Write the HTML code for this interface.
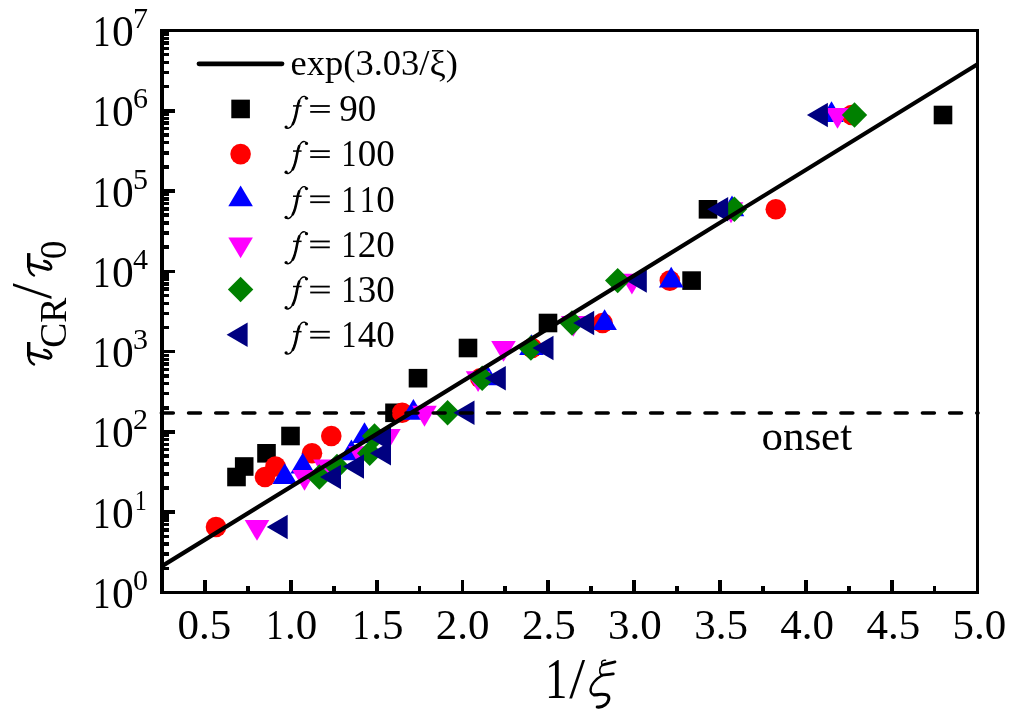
<!DOCTYPE html>
<html><head><meta charset="utf-8"><style>
html,body{margin:0;padding:0;background:#fff;width:1024px;height:722px;overflow:hidden}
svg{display:block;will-change:transform;font-family:"Liberation Serif",serif}
</style></head><body>
<svg width="1024" height="722" viewBox="0 0 1024 722" font-family="Liberation Serif, serif">
<defs><g id="fg"><path d="M306.6 98.6C306.4 96.4 303.6 95.6 301.6 97.4C299.3 99.5 298.2 103 297.3 108C296.3 114 295 121 291.8 125.6C289.8 128.4 287.2 129.2 285.8 127.4" fill="none" stroke="#000" stroke-width="1.4" stroke-linecap="round"/><path d="M299.2 101C298.2 103.4 297.8 105.5 297.3 108C296.3 114 295.2 120 292.8 124.2" fill="none" stroke="#000" stroke-width="2.6" stroke-linecap="round"/><circle cx="306.5" cy="98.3" r="1.6"/><circle cx="286.1" cy="127.1" r="1.6"/><rect x="293" y="105.2" width="8.6" height="1.5"/></g>
<g id="tau" fill="none" stroke="#000" stroke-linecap="round"><path d="M23 -22.2L8.5 -22.2" stroke-width="3.4" stroke-linecap="butt"/><path d="M9 -22.2C5 -22.2 2.2 -20.2 0.6 -16.9" stroke-width="2.4"/><path d="M11.6 -20.8L7 -3.2" stroke-width="3.2"/><path d="M7 -3.2C6.2 0.2 8.6 1 11 -0.4C13.4 -1.8 14.6 -4.2 15 -6.6" stroke-width="2.6"/></g>
</defs>
<rect width="1024" height="722" fill="#fff"/>
<g fill="#000" shape-rendering="crispEdges">
<rect x="164" y="567" width="5" height="3"/><rect x="164" y="552" width="5" height="4"/><rect x="164" y="542" width="5" height="4"/><rect x="164" y="535" width="5" height="3"/><rect x="164" y="528" width="5" height="4"/><rect x="164" y="523" width="5" height="3"/><rect x="164" y="518" width="5" height="4"/><rect x="164" y="514" width="5" height="4"/><rect x="164" y="510" width="11" height="4"/><rect x="164" y="486" width="5" height="4"/><rect x="164" y="472" width="5" height="4"/><rect x="164" y="462" width="5" height="4"/><rect x="164" y="454" width="5" height="4"/><rect x="164" y="448" width="5" height="3"/><rect x="164" y="443" width="5" height="3"/><rect x="164" y="438" width="5" height="3"/><rect x="164" y="434" width="5" height="3"/><rect x="164" y="430" width="11" height="4"/><rect x="164" y="406" width="5" height="4"/><rect x="164" y="392" width="5" height="3"/><rect x="164" y="382" width="5" height="3"/><rect x="164" y="374" width="5" height="4"/><rect x="164" y="368" width="5" height="3"/><rect x="164" y="362" width="5" height="4"/><rect x="164" y="358" width="5" height="3"/><rect x="164" y="354" width="5" height="3"/><rect x="164" y="350" width="11" height="3"/><rect x="164" y="326" width="5" height="3"/><rect x="164" y="312" width="5" height="3"/><rect x="164" y="302" width="5" height="3"/><rect x="164" y="294" width="5" height="3"/><rect x="164" y="287" width="5" height="4"/><rect x="164" y="282" width="5" height="4"/><rect x="164" y="277" width="5" height="4"/><rect x="164" y="273" width="5" height="4"/><rect x="164" y="270" width="11" height="3"/><rect x="164" y="245" width="5" height="4"/><rect x="164" y="231" width="5" height="4"/><rect x="164" y="221" width="5" height="4"/><rect x="164" y="213" width="5" height="4"/><rect x="164" y="207" width="5" height="4"/><rect x="164" y="202" width="5" height="3"/><rect x="164" y="197" width="5" height="4"/><rect x="164" y="193" width="5" height="3"/><rect x="164" y="189" width="11" height="4"/><rect x="164" y="165" width="5" height="4"/><rect x="164" y="151" width="5" height="4"/><rect x="164" y="141" width="5" height="3"/><rect x="164" y="133" width="5" height="4"/><rect x="164" y="127" width="5" height="3"/><rect x="164" y="121" width="5" height="4"/><rect x="164" y="117" width="5" height="3"/><rect x="164" y="113" width="5" height="3"/><rect x="164" y="109" width="11" height="4"/><rect x="164" y="85" width="5" height="3"/><rect x="164" y="71" width="5" height="3"/><rect x="164" y="61" width="5" height="3"/><rect x="164" y="53" width="5" height="3"/><rect x="164" y="47" width="5" height="3"/><rect x="164" y="41" width="5" height="4"/><rect x="164" y="37" width="5" height="3"/><rect x="164" y="32" width="5" height="4"/><rect x="203" y="580" width="4" height="11"/><rect x="289" y="580" width="4" height="11"/><rect x="375" y="580" width="4" height="11"/><rect x="461" y="580" width="3" height="11"/><rect x="546" y="580" width="4" height="11"/><rect x="632" y="580" width="4" height="11"/><rect x="718" y="580" width="4" height="11"/><rect x="804" y="580" width="4" height="11"/><rect x="890" y="580" width="4" height="11"/><rect x="246" y="586" width="4" height="5"/><rect x="332" y="586" width="4" height="5"/><rect x="418" y="586" width="3" height="5"/><rect x="503" y="586" width="4" height="5"/><rect x="589" y="586" width="4" height="5"/><rect x="675" y="586" width="4" height="5"/><rect x="761" y="586" width="4" height="5"/><rect x="847" y="586" width="4" height="5"/><rect x="933" y="586" width="3" height="5"/>
</g>
<g>
<rect x="227.20" y="467.70" width="18.6" height="18.6" fill="#000"/><rect x="234.90" y="457.20" width="18.6" height="18.6" fill="#000"/><rect x="257.20" y="444.00" width="18.6" height="18.6" fill="#000"/><rect x="281.20" y="426.70" width="18.6" height="18.6" fill="#000"/><rect x="385.20" y="403.50" width="18.6" height="18.6" fill="#000"/><rect x="408.70" y="368.90" width="18.6" height="18.6" fill="#000"/><rect x="458.70" y="338.70" width="18.6" height="18.6" fill="#000"/><rect x="538.70" y="313.70" width="18.6" height="18.6" fill="#000"/><rect x="682.30" y="271.30" width="18.6" height="18.6" fill="#000"/><rect x="698.70" y="200.00" width="18.6" height="18.6" fill="#000"/><rect x="933.70" y="105.70" width="18.6" height="18.6" fill="#000"/><circle cx="216.00" cy="527.00" r="10.3" fill="#f00"/><circle cx="265.00" cy="477.00" r="10.3" fill="#f00"/><circle cx="275.50" cy="466.50" r="10.3" fill="#f00"/><circle cx="312.00" cy="453.30" r="10.3" fill="#f00"/><circle cx="331.30" cy="436.00" r="10.3" fill="#f00"/><circle cx="402.20" cy="412.80" r="10.3" fill="#f00"/><circle cx="480.30" cy="378.20" r="10.3" fill="#f00"/><circle cx="532.00" cy="348.00" r="10.3" fill="#f00"/><circle cx="602.60" cy="323.00" r="10.3" fill="#f00"/><circle cx="669.80" cy="280.60" r="10.3" fill="#f00"/><circle cx="775.80" cy="209.30" r="10.3" fill="#f00"/><circle cx="851.70" cy="115.00" r="10.3" fill="#f00"/><path d="M284.80 463.13L297.10 483.93L272.50 483.93Z" fill="#00f"/><path d="M302.70 452.63L315.00 473.43L290.40 473.43Z" fill="#00f"/><path d="M351.40 439.43L363.70 460.23L339.10 460.23Z" fill="#00f"/><path d="M364.50 422.13L376.80 442.93L352.20 442.93Z" fill="#00f"/><path d="M413.40 398.93L425.70 419.73L401.10 419.73Z" fill="#00f"/><path d="M487.00 364.33L499.30 385.13L474.70 385.13Z" fill="#00f"/><path d="M531.50 334.13L543.80 354.93L519.20 354.93Z" fill="#00f"/><path d="M604.60 309.13L616.90 329.93L592.30 329.93Z" fill="#00f"/><path d="M671.20 266.73L683.50 287.53L658.90 287.53Z" fill="#00f"/><path d="M732.00 195.43L744.30 216.23L719.70 216.23Z" fill="#00f"/><path d="M831.50 101.13L843.80 121.93L819.20 121.93Z" fill="#00f"/><path d="M257.00 540.87L269.30 520.07L244.70 520.07Z" fill="#f0f"/><path d="M304.50 490.87L316.80 470.07L292.20 470.07Z" fill="#f0f"/><path d="M325.50 480.37L337.80 459.57L313.20 459.57Z" fill="#f0f"/><path d="M360.50 467.17L372.80 446.37L348.20 446.37Z" fill="#f0f"/><path d="M388.40 449.87L400.70 429.07L376.10 429.07Z" fill="#f0f"/><path d="M424.50 426.67L436.80 405.87L412.20 405.87Z" fill="#f0f"/><path d="M478.10 392.07L490.40 371.27L465.80 371.27Z" fill="#f0f"/><path d="M503.50 361.87L515.80 341.07L491.20 341.07Z" fill="#f0f"/><path d="M573.30 336.87L585.60 316.07L561.00 316.07Z" fill="#f0f"/><path d="M631.90 294.47L644.20 273.67L619.60 273.67Z" fill="#f0f"/><path d="M731.00 223.17L743.30 202.37L718.70 202.37Z" fill="#f0f"/><path d="M837.50 128.87L849.80 108.07L825.20 108.07Z" fill="#f0f"/><path d="M319.30 464.30L332.00 477.00L319.30 489.70L306.60 477.00Z" fill="#008000"/><path d="M337.00 453.80L349.70 466.50L337.00 479.20L324.30 466.50Z" fill="#008000"/><path d="M369.70 440.60L382.40 453.30L369.70 466.00L357.00 453.30Z" fill="#008000"/><path d="M374.50 423.30L387.20 436.00L374.50 448.70L361.80 436.00Z" fill="#008000"/><path d="M447.60 400.10L460.30 412.80L447.60 425.50L434.90 412.80Z" fill="#008000"/><path d="M482.20 365.50L494.90 378.20L482.20 390.90L469.50 378.20Z" fill="#008000"/><path d="M530.90 335.30L543.60 348.00L530.90 360.70L518.20 348.00Z" fill="#008000"/><path d="M572.00 310.30L584.70 323.00L572.00 335.70L559.30 323.00Z" fill="#008000"/><path d="M617.70 267.90L630.40 280.60L617.70 293.30L605.00 280.60Z" fill="#008000"/><path d="M734.40 196.60L747.10 209.30L734.40 222.00L721.70 209.30Z" fill="#008000"/><path d="M854.50 102.30L867.20 115.00L854.50 127.70L841.80 115.00Z" fill="#008000"/><path d="M266.70 527.00L287.70 514.80L287.70 539.20Z" fill="#000080"/><path d="M320.00 477.00L341.00 464.80L341.00 489.20Z" fill="#000080"/><path d="M343.00 466.50L364.00 454.30L364.00 478.70Z" fill="#000080"/><path d="M370.00 453.30L391.00 441.10L391.00 465.50Z" fill="#000080"/><path d="M453.50 412.80L474.50 400.60L474.50 425.00Z" fill="#000080"/><path d="M484.80 378.20L505.80 366.00L505.80 390.40Z" fill="#000080"/><path d="M532.50 348.00L553.50 335.80L553.50 360.20Z" fill="#000080"/><path d="M573.20 323.00L594.20 310.80L594.20 335.20Z" fill="#000080"/><path d="M625.80 280.60L646.80 268.40L646.80 292.80Z" fill="#000080"/><path d="M707.20 209.30L728.20 197.10L728.20 221.50Z" fill="#000080"/><path d="M806.90 115.00L827.90 102.80L827.90 127.20Z" fill="#000080"/><path d="M370.00 438.50L391.00 426.30L391.00 450.70Z" fill="#000080"/>
</g>
<line x1="162.0" y1="566.09" x2="977.5" y2="64.26" stroke="#000" stroke-width="4.2"/>
<line x1="161.4" y1="413" x2="978" y2="413" stroke="#000" stroke-width="3.6" stroke-linecap="round" stroke-dasharray="11.9 15.28"/>
<g fill="#000">
<rect x="160" y="29" width="4" height="565"/>
<rect x="160" y="29" width="819" height="3"/>
<rect x="976" y="29" width="3" height="565"/>
<rect x="160" y="591" width="819" height="3"/>
</g>
<g fill="#000">
<text x="177.43" y="638.70" font-size="43">0.5</text><text x="0" y="0" font-size="43" text-anchor="middle" transform="translate(274.88,638.70) scale(0.8,1)">1</text><text x="285.05" y="638.70" font-size="43">.0</text><text x="0" y="0" font-size="43" text-anchor="middle" transform="translate(361.00,638.70) scale(0.8,1)">1</text><text x="371.17" y="638.70" font-size="43">.5</text><text x="435.79" y="638.70" font-size="43">2.0</text><text x="521.90" y="638.70" font-size="43">2.5</text><text x="608.03" y="638.70" font-size="43">3.0</text><text x="694.14" y="638.70" font-size="43">3.5</text><text x="780.27" y="638.70" font-size="43">4.0</text><text x="866.38" y="638.70" font-size="43">4.5</text><text x="952.51" y="638.70" font-size="43">5.0</text><text x="0" y="0" font-size="43.5" text-anchor="middle" transform="translate(101.76,608.00) scale(0.8,1)">1</text><text x="112.05" y="608.00" font-size="43.5">0</text><text x="132.90" y="590.00" font-size="30">0</text><text x="0" y="0" font-size="43.5" text-anchor="middle" transform="translate(101.76,527.71) scale(0.8,1)">1</text><text x="112.05" y="527.71" font-size="43.5">0</text><text x="0" y="0" font-size="30" text-anchor="middle" transform="translate(140.81,509.71) scale(0.8,1)">1</text><text x="0" y="0" font-size="43.5" text-anchor="middle" transform="translate(101.76,447.43) scale(0.8,1)">1</text><text x="112.05" y="447.43" font-size="43.5">0</text><text x="132.90" y="429.43" font-size="30">2</text><text x="0" y="0" font-size="43.5" text-anchor="middle" transform="translate(101.76,367.14) scale(0.8,1)">1</text><text x="112.05" y="367.14" font-size="43.5">0</text><text x="132.90" y="349.14" font-size="30">3</text><text x="0" y="0" font-size="43.5" text-anchor="middle" transform="translate(101.76,286.86) scale(0.8,1)">1</text><text x="112.05" y="286.86" font-size="43.5">0</text><text x="132.90" y="268.86" font-size="30">4</text><text x="0" y="0" font-size="43.5" text-anchor="middle" transform="translate(101.76,206.57) scale(0.8,1)">1</text><text x="112.05" y="206.57" font-size="43.5">0</text><text x="132.90" y="188.57" font-size="30">5</text><text x="0" y="0" font-size="43.5" text-anchor="middle" transform="translate(101.76,126.29) scale(0.8,1)">1</text><text x="112.05" y="126.29" font-size="43.5">0</text><text x="132.90" y="108.29" font-size="30">6</text><text x="0" y="0" font-size="43.5" text-anchor="middle" transform="translate(101.76,46.00) scale(0.8,1)">1</text><text x="112.05" y="46.00" font-size="43.5">0</text><text x="132.90" y="28.00" font-size="30">7</text>
<line x1="199" y1="63.8" x2="282" y2="63.8" stroke="#000" stroke-width="4.8" stroke-linecap="round"/><text x="290.6" y="74.8" font-size="36.5">exp(3.03/ξ)</text><rect x="231.30" y="99.65" width="18.6" height="18.6" fill="#000"/><use href="#fg" transform="translate(0,-0.05)"/><rect x="310.2" y="105.10" width="19.6" height="1.8"/><rect x="310.2" y="111.00" width="19.6" height="1.8"/><text x="339.20" y="121.25" font-size="37">90</text><circle cx="240.60" cy="154.10" r="10.3" fill="#f00"/><use href="#fg" transform="translate(0,45.10)"/><rect x="310.2" y="150.25" width="19.6" height="1.8"/><rect x="310.2" y="156.15" width="19.6" height="1.8"/><text x="0" y="0" font-size="37" text-anchor="middle" transform="translate(348.95,166.40) scale(0.8,1)">1</text><text x="357.70" y="166.40" font-size="37">00</text><path d="M240.60 185.38L252.90 206.18L228.30 206.18Z" fill="#00f"/><use href="#fg" transform="translate(0,90.25)"/><rect x="310.2" y="195.40" width="19.6" height="1.8"/><rect x="310.2" y="201.30" width="19.6" height="1.8"/><text x="0" y="0" font-size="37" text-anchor="middle" transform="translate(348.95,211.55) scale(0.8,1)">1</text><text x="0" y="0" font-size="37" text-anchor="middle" transform="translate(367.45,211.55) scale(0.8,1)">1</text><text x="376.20" y="211.55" font-size="37">0</text><path d="M240.60 258.27L252.90 237.47L228.30 237.47Z" fill="#f0f"/><use href="#fg" transform="translate(0,135.40)"/><rect x="310.2" y="240.55" width="19.6" height="1.8"/><rect x="310.2" y="246.45" width="19.6" height="1.8"/><text x="0" y="0" font-size="37" text-anchor="middle" transform="translate(348.95,256.70) scale(0.8,1)">1</text><text x="357.70" y="256.70" font-size="37">20</text><path d="M240.60 276.85L253.30 289.55L240.60 302.25L227.90 289.55Z" fill="#008000"/><use href="#fg" transform="translate(0,180.55)"/><rect x="310.2" y="285.70" width="19.6" height="1.8"/><rect x="310.2" y="291.60" width="19.6" height="1.8"/><text x="0" y="0" font-size="37" text-anchor="middle" transform="translate(348.95,301.85) scale(0.8,1)">1</text><text x="357.70" y="301.85" font-size="37">30</text><path d="M226.60 334.70L247.60 322.50L247.60 346.90Z" fill="#000080"/><use href="#fg" transform="translate(0,225.70)"/><rect x="310.2" y="330.85" width="19.6" height="1.8"/><rect x="310.2" y="336.75" width="19.6" height="1.8"/><text x="0" y="0" font-size="37" text-anchor="middle" transform="translate(348.95,347.00) scale(0.8,1)">1</text><text x="357.70" y="347.00" font-size="37">40</text>
<text x="761.4" y="450" font-size="43">onset</text>
<text x="0" y="0" font-size="56" text-anchor="middle" transform="translate(556.26,698.10) scale(0.8,1)">1</text><text x="569.2" y="698.1" font-size="57">/</text><g fill="none" stroke="#000" stroke-linecap="round"><path d="M605.5 660.3C602.3 659.6 600.4 662.4 602.3 665.1" stroke-width="1.5"/><path d="M602.6 665C606 664.2 611 662.8 615 661.9" stroke-width="2.8"/><path d="M602.3 665.2C599.6 667.4 598.6 671.6 601.2 674.9" stroke-width="1.6"/><path d="M601.4 675C605 675.2 610 674.4 613.3 673.9" stroke-width="2.8"/><path d="M602 675.6C596 678.8 590.2 684.8 590.6 690.8C591 694.4 594 695.2 598 695" stroke-width="2.3"/><path d="M594 694.9C598.6 694.3 604.2 693.6 607.4 695.2C610 697.2 609 702 605.2 704.8C602.6 706.8 599.8 707.4 597.2 707" stroke-width="3"/></g>
<g transform="translate(50.9,0) rotate(-90)">
<use href="#tau" transform="translate(-365,0)"/><text x="-347.8" y="15.2" font-size="37.5">CR</text><text x="-299" y="0" font-size="57">/</text><use href="#tau" transform="translate(-276.1,0)"/><text x="-259.2" y="15" font-size="37.5">0</text>
</g>
</g>
</svg>
</body></html>
